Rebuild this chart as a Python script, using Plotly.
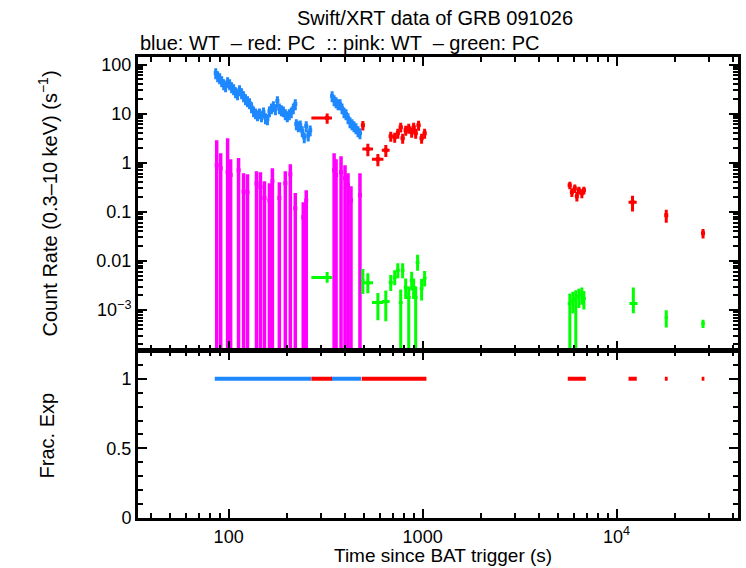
import numpy as np
import plotly.graph_objects as go

# ---------------- data ----------------
# Blue: WT count rate (two stretches in the first orbit)
blue1_t = [85.8, 87.8, 89.9, 92.1, 94.3, 96.5, 98.8, 101.2, 103.6, 106.1, 108.6, 111.2,
           113.8, 116.6, 119.4, 122.2, 125.1, 128.2, 131.2, 134.4, 137.6, 140.9, 144.2,
           147.7, 151.2, 154.8, 158.5, 162.3, 166.2, 170.1, 174.2, 178.4, 182.6, 187.0,
           191.5, 196.0, 200.7, 205.5, 210.4, 215.5, 220.6, 223.3, 228.6, 234.0, 239.6,
           245.4, 251.2, 257.2, 263.3]
blue1_r = [67.1, 58.2, 53.0, 46.0, 40.0, 36.4, 44.0, 40.0, 34.7, 31.6, 27.5, 25.0,
           30.2, 26.2, 22.8, 19.8, 18.0, 16.4, 13.6, 11.2, 10.2, 9.31, 10.2,
           8.89, 10.7, 8.09, 7.72, 11.2, 12.9, 14.2, 12.4, 18.0, 12.9, 11.8,
           11.2, 9.77, 8.89, 9.77, 10.7, 12.9, 15.6, 6.11, 5.56, 5.8, 4.4,
           3.3, 5.56, 3.6, 4.6]
blue2_t = [341.5, 349.7, 357.9, 366.5, 375.3, 384.2, 393.4, 402.8, 412.5, 422.3, 432.4,
           442.8, 453.3, 464.2, 475.3]
blue2_r = [22.8, 18.9, 17.2, 15.6, 15.6, 12.9, 10.7, 9.77, 8.09, 6.71, 6.11,
           5.56, 5.06, 4.4, 4.0]
blue_rel_err = 0.25

# Red: PC count rate
red_t = [322, 492, 522, 588, 646, 685, 718, 745, 771, 789, 818, 848, 878, 899, 921, 953,
         988, 1024, 5740, 5880, 6090, 6240, 6390, 6620, 6780, 12080, 18030, 27900]
red_tm = [55, 7, 33, 40, 30, 16, 16, 16, 17, 17, 18, 19, 19, 20, 20, 21,
          22, 22, 140, 70, 100, 70, 80, 110, 140, 560, 300, 450]
red_tp = [19, 8, 33, 40, 30, 16, 16, 16, 17, 17, 18, 19, 19, 20, 20, 21,
          22, 22, 70, 100, 70, 80, 110, 80, 160, 620, 300, 450]
red_r = [8.1, 5.8, 1.89, 1.18, 1.8, 3.47, 3.31, 4.0, 5.3, 3.16, 4.6, 5.06, 4.19, 5.3,
         4.0, 5.82, 3.16, 4.0, 0.348, 0.25, 0.30, 0.207, 0.275, 0.239, 0.275, 0.156,
         0.085, 0.0364]
red_e = [1.9, 1.3, 0.53, 0.33, 0.5, 0.8, 0.76, 0.92, 1.2, 0.73, 1.06, 1.16, 0.96, 1.2,
         0.92, 1.34, 0.73, 0.92, 0.06, 0.05, 0.06, 0.045, 0.05, 0.05, 0.05, 0.055,
         0.025, 0.008]

# Pink: WT (second band)
pink_t = [86.8, 91.0, 98.8, 102.4, 112.5, 119.4, 125.1, 139.2, 145.9, 153.0, 162.3,
          168.1, 182.6, 196.0, 208.0, 220.6, 242.5, 251.2, 349.7, 357.9, 379.7, 398.1,
          412.5, 427.3, 475.3]
pink_r = [0.89, 0.77, 0.64, 0.56, 0.70, 0.26, 0.25, 0.38, 0.32, 0.19, 0.17,
          0.42, 0.19, 0.38, 0.58, 0.118, 0.077, 0.17, 0.70, 0.56, 0.64, 0.48,
          0.35, 0.17, 0.22]
pink_hi = [2.88, 1.56, 3.16, 1.18, 1.24, 0.61, 0.58, 0.67, 0.64, 0.42, 0.38,
           0.77, 0.40, 0.67, 0.93, 0.24, 0.156, 0.275, 1.56, 1.18, 1.36, 0.89,
           0.61, 0.33, 0.61]
pink_lo = [0.0] * len(pink_t)

# Green: PC (second band)
green_t = [322, 492, 522, 588, 646, 685, 718, 745, 771, 789, 818, 848, 878, 899, 921, 942,
           988, 1024, 5740, 5950, 6160, 6390, 6620, 6780, 12200, 18030, 27900]
green_tm = [55, 7, 33, 40, 30, 16, 16, 16, 17, 17, 18, 19, 19, 20, 20, 21,
            22, 22, 140, 90, 90, 90, 90, 100, 560, 300, 450]
green_tp = [19, 8, 33, 40, 30, 16, 16, 16, 17, 17, 18, 19, 19, 20, 20, 21,
            22, 22, 90, 90, 90, 90, 90, 150, 620, 300, 450]
green_r = [0.0046, 0.0040, 0.0036, 0.00142, 0.00149, 0.00364, 0.0046, 0.0064, 0.00142,
           0.0064, 0.00288, 0.0018, 0.0040, 0.00288, 0.0018, 0.0093, 0.00275, 0.0044,
           0.00136, 0.00156, 0.00172, 0.00189, 0.00207, 0.00172, 0.00136, 0.0007, 0.00053]
green_ep = [0.0013, 0.0028, 0.0020, 0.0008, 0.0010, 0.0015, 0.0018, 0.0025, 0.0012,
            0.0025, 0.0015, 0.0012, 0.0020, 0.0015, 0.0012, 0.0040, 0.0015, 0.0018,
            0.0008, 0.0008, 0.0008, 0.0008, 0.0008, 0.0007, 0.0015, 0.00028, 0.0001]
green_em = [0.0010, 0.0019, 0.0014, 0.0008, 0.0009, 0.0012, 0.0014, 0.0020, 0.00142,
            0.0020, 0.0012, 0.0018, 0.0015, 0.0012, 0.0018, 0.0030, 0.0012, 0.0014,
            0.00136, 0.0007, 0.00172, 0.0008, 0.0008, 0.0007, 0.0005, 0.00026, 0.0001]

frac_exp_value = 1.0

x_tickvals = [100, 1000, 10000]
x_ticktext = ["100", "1000", "10<sup>4</sup>"]
y_tickvals = [1e-3, 0.01, 0.1, 1, 10, 100]
y_ticktext = ["10<sup>\u22123</sup>", "0.01", "0.1", "1", "10", "100"]
y2_tickvals = [0, 0.5, 1]
y2_ticktext = ["0", "0.5", "1"]

BLUE = "#1e88ff"
RED = "#ff0000"
PINK = "#ff00ff"
GREEN = "#00ff00"


def half_widths(t):
    t = np.asarray(t, float)
    mids = np.sqrt(t[1:] * t[:-1])
    lo = np.empty_like(t)
    hi = np.empty_like(t)
    lo[1:] = t[1:] - mids
    hi[:-1] = mids - t[:-1]
    lo[0] = hi[0]
    hi[-1] = lo[-1]
    return lo, hi


fig = go.Figure()


def add_series(t, r, tm, tp, ep, em, color, thick, msize=3):
    fig.add_trace(go.Scatter(
        x=t, y=r, mode="markers", xaxis="x", yaxis="y",
        marker=dict(color=color, size=msize, symbol="square", line=dict(width=0)),
        error_x=dict(type="data", symmetric=False, array=tp, arrayminus=tm,
                     color=color, thickness=thick, width=0),
        error_y=dict(type="data", symmetric=False, array=ep, arrayminus=em,
                     color=color, thickness=thick, width=0),
        showlegend=False, hoverinfo="skip"))


# pink (drawn first, behind)
pink_ep = [h - r for h, r in zip(pink_hi, pink_r)]
pink_em = [r - l for r, l in zip(pink_r, pink_lo)]
add_series(pink_t, pink_r, [0] * len(pink_t), [0] * len(pink_t),
           pink_ep, pink_em, PINK, 3.5, msize=4)

# green
add_series(green_t, green_r, green_tm, green_tp, green_ep, green_em, GREEN, 3)

# blue
for bt, br in ((blue1_t, blue1_r), (blue2_t, blue2_r)):
    lo, hi = half_widths(bt)
    err = [v * blue_rel_err for v in br]
    add_series(bt, br, lo, hi, err, err, BLUE, 3, msize=4)

# red
add_series(red_t, red_r, red_tm, red_tp, red_e, red_e, RED, 3, msize=4)


# bottom panel: fractional exposure as merged horizontal bin segments
def merged_segments(t, tm, tp, val):
    bins = sorted((c - a, c + b) for c, a, b in zip(t, tm, tp))
    merged = []
    for a, b in bins:
        if merged and a <= merged[-1][1] * 1.02:
            merged[-1][1] = max(merged[-1][1], b)
        else:
            merged.append([a, b])
    xs, ys = [], []
    for a, b in merged:
        xs += [a, b, None]
        ys += [val, val, None]
    return xs, ys


for bt in (blue1_t, blue2_t):
    lo, hi = half_widths(bt)
    xs, ys = merged_segments(bt, lo, hi, frac_exp_value)
    fig.add_trace(go.Scatter(x=xs, y=ys, mode="lines", xaxis="x2", yaxis="y2",
                             line=dict(color=BLUE, width=4), showlegend=False,
                             hoverinfo="skip"))
xs, ys = merged_segments(red_t, red_tm, red_tp, frac_exp_value)
fig.add_trace(go.Scatter(x=xs, y=ys, mode="lines", xaxis="x2", yaxis="y2",
                         line=dict(color=RED, width=4), showlegend=False,
                         hoverinfo="skip"))

FONT = "Liberation Sans, Arial, Helvetica, sans-serif"
fs = 20
tfs = 18

x_minor = [m * 10 ** k for k in range(1, 5) for m in range(2, 10)]
y_minor = [m * 10.0 ** k for k in range(-4, 3) for m in range(2, 10)]

common_ax = dict(showline=True, linewidth=3, linecolor="black", mirror="allticks",
                 ticks="inside", tickwidth=2, tickcolor="black", showgrid=False,
                 zeroline=False, tickfont=dict(family=FONT, size=tfs, color="black"))

xrange = [np.log10(34.1), np.log10(42250)]
minor_style = dict(ticks="inside", ticklen=5, tickwidth=2, tickcolor="black",
                   showgrid=False)

fig.update_layout(
    width=746, height=568,
    margin=dict(l=138, r=5, t=57, b=50),
    paper_bgcolor="white", plot_bgcolor="white",
    font=dict(family=FONT, size=fs, color="black"),
    xaxis=dict(type="log", range=xrange, domain=[0, 1], anchor="y",
               tickvals=x_tickvals, ticktext=x_ticktext, showticklabels=False,
               ticklen=9, minor=dict(tickvals=x_minor, **minor_style), **common_ax),
    yaxis=dict(type="log", range=[-3.806, 2.153], domain=[0.3655, 1], anchor="x",
               tickvals=y_tickvals, ticktext=y_ticktext, ticklen=9,
               minor=dict(tickvals=y_minor, **minor_style), **common_ax),
    xaxis2=dict(type="log", range=xrange, domain=[0, 1], anchor="y2", matches="x",
                tickvals=x_tickvals, ticktext=x_ticktext, ticklen=9,
                minor=dict(tickvals=x_minor, **minor_style), **common_ax),
    yaxis2=dict(range=[0, 1.2], domain=[0, 0.3625], anchor="x2",
                tickvals=y2_tickvals, ticktext=y2_ticktext, ticklen=9,
                minor=dict(dtick=0.1, tick0=0, **minor_style), **common_ax),
    annotations=[
        dict(text="Swift/XRT data of GRB 091026", xref="paper", yref="paper",
             x=0.495, y=1.0846, xanchor="center", yanchor="middle", showarrow=False,
             font=dict(family=FONT, size=fs, color="black")),
        dict(text="blue: WT \u00a0\u2013 red: PC \u00a0:: pink: WT \u00a0\u2013 green: PC",
             xref="paper", yref="paper", x=0.0, y=1.0304, xanchor="left",
             yanchor="middle", showarrow=False,
             font=dict(family=FONT, size=fs, color="black")),
        dict(text="Count Rate (0.3\u201310 keV) (s<sup>\u22121</sup>)", xref="paper",
             yref="paper", x=-0.151, y=0.683, xanchor="center", yanchor="middle",
             textangle=-90, showarrow=False,
             font=dict(family=FONT, size=fs, color="black")),
        dict(text="Frac. Exp", xref="paper", yref="paper", x=-0.151, y=0.18,
             xanchor="center", yanchor="middle", textangle=-90, showarrow=False,
             font=dict(family=FONT, size=fs, color="black")),
        dict(text="Time since BAT trigger (s)", xref="paper", yref="paper",
             x=0.508, y=-0.081, xanchor="center", yanchor="middle", showarrow=False,
             font=dict(family=FONT, size=19, color="black")),
    ],
)

fig.write_html("out.html")
